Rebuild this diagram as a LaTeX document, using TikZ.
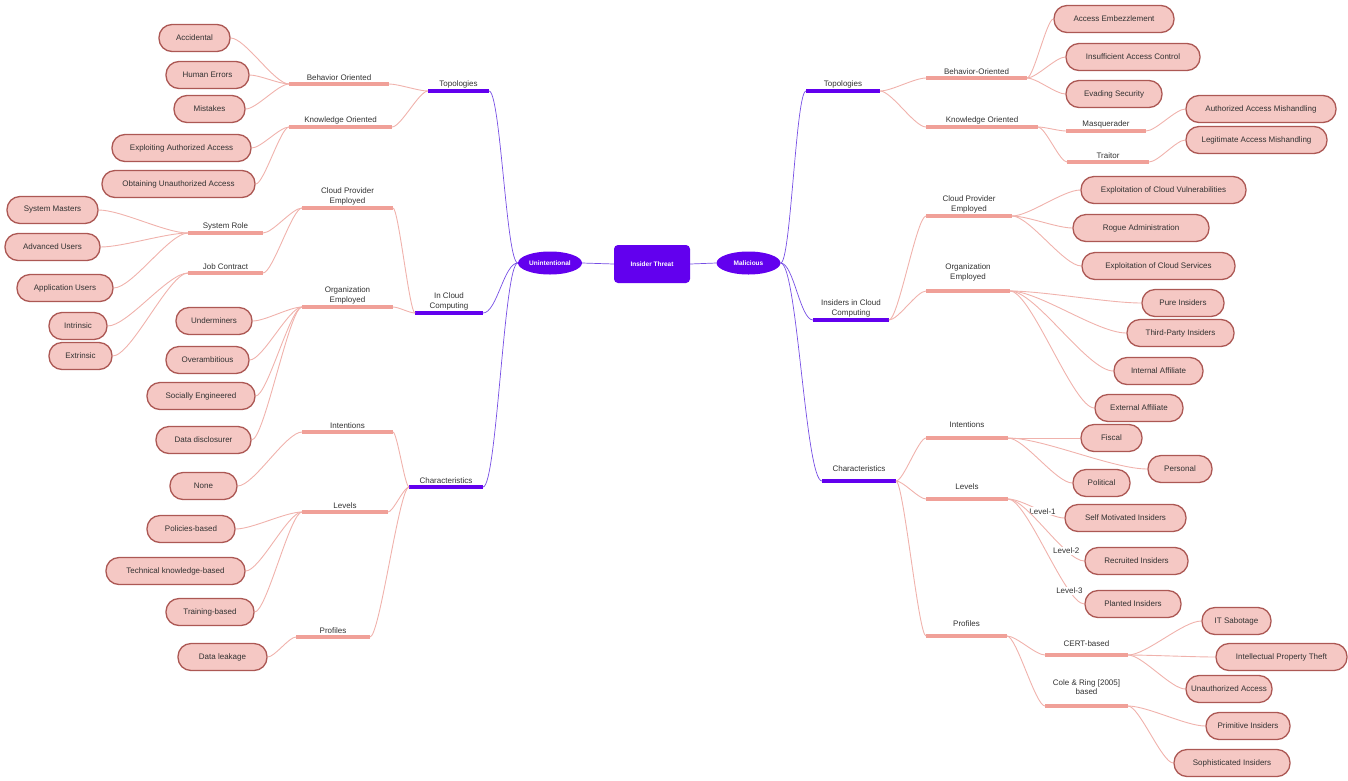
\documentclass[tikz,border=0pt]{standalone}
\usepackage{fontspec}
\setmainfont{Liberation Sans}
\usetikzlibrary{calc,shapes.geometric}

\definecolor{violetmain}{RGB}{98,0,238}
\definecolor{barpink}{RGB}{240,160,152}
\definecolor{leaffill}{RGB}{245,200,196}
\definecolor{leafline}{RGB}{172,88,84}
\definecolor{linkpink}{RGB}{240,178,172}
\definecolor{linkviolet}{RGB}{118,78,228}
\definecolor{txt}{RGB}{50,50,50}

\begin{document}
\begin{tikzpicture}[x=1pt,y=-1pt,
  every node/.style={font=\fontsize{8}{9.5}\selectfont, text=txt},
  hub/.style={rectangle, rounded corners=4pt, fill=violetmain, minimum width=76,
    minimum height=38, text=white, font=\fontsize{6.5}{8}\selectfont\bfseries},
  branch/.style={ellipse, fill=violetmain, minimum width=64, minimum height=23,
    inner sep=0pt, text=white, font=\fontsize{6.5}{8}\selectfont\bfseries},
  vbar/.style={fill=violetmain, minimum height=4, inner sep=0pt, outer sep=0pt},
  pbar/.style={fill=barpink, minimum height=4, inner sep=0pt, outer sep=0pt},
  lbl/.style={align=center, inner sep=1pt},
  leaf/.style={draw=leafline, fill=leaffill, line width=1.3pt, rounded corners=13pt,
    minimum height=27, inner sep=2pt},
  curve/.style={to path={let \p1=(\tikztostart), \p2=(\tikztotarget) in
    .. controls ({\x1+#1*(\x2-\x1)},\y1) and ({\x2-#1*(\x2-\x1)},\y2) .. (\tikztotarget) \tikztonodes}},
  link/.style={draw=linkpink, line width=0.9pt, curve=0.25},
  vlink/.style={draw=linkviolet, line width=0.7pt, curve=0.4},
  edgelbl/.style={fill=white, inner sep=1pt}
]
\useasboundingbox (0,0) rectangle (1348,780);

% ---------- centre ----------
\node[hub] (hub) at (652,264) {Insider Threat};
\node[branch] (unint) at (550,263) {Unintentional};
\node[branch] (mal) at (748.5,263) {Malicious};

% ---------- unintentional side: branch bars ----------
\node[vbar, minimum width=61, label={[lbl]above:Topologies}] (ltop) at (458.5,91) {};
\node[vbar, minimum width=68, label={[lbl]above:{In Cloud\\Computing}}] (lcloud) at (449,313) {};
\node[vbar, minimum width=74, label={[lbl]above:Characteristics}] (lchar) at (446,487) {};

\node[pbar, minimum width=100, label={[lbl]above:Behavior Oriented}] (lbeh) at (339,84) {};
\node[pbar, minimum width=103, label={[lbl]above:Knowledge Oriented}] (lknow) at (340.5,127) {};
\node[pbar, minimum width=91, label={[lbl]above:{Cloud Provider\\Employed}}] (lcpe) at (347.5,208) {};
\node[pbar, minimum width=91, label={[lbl]above:{Organization\\Employed}}] (loe) at (347.5,307) {};
\node[pbar, minimum width=75, label={[lbl]above:System Role}] (lsr) at (225.5,233) {};
\node[pbar, minimum width=75, label={[lbl]above:Job Contract}] (ljc) at (225.5,273) {};
\node[pbar, minimum width=91, label={[lbl]above:Intentions}] (lint) at (347.5,432) {};
\node[pbar, minimum width=86, label={[lbl]above:Levels}] (llev) at (345,512) {};
\node[pbar, minimum width=74, label={[lbl]above:Profiles}] (lprof) at (333,637) {};

% ---------- unintentional side: leaves ----------
\node[leaf, minimum width=71] (acc) at (194.5,38) {Accidental};
\node[leaf, minimum width=83] (hum) at (207.5,75) {Human Errors};
\node[leaf, minimum width=71] (mis) at (209.5,109) {Mistakes};
\node[leaf, minimum width=139] (exa) at (181.5,148) {Exploiting Authorized Access};
\node[leaf, minimum width=153] (obt) at (178.5,184) {Obtaining Unauthorized Access};
\node[leaf, minimum width=91] (sm) at (52.5,210) {System Masters};
\node[leaf, minimum width=95] (au) at (52.5,247) {Advanced Users};
\node[leaf, minimum width=96] (apu) at (65,288) {Application Users};
\node[leaf, minimum width=58] (intr) at (78,326) {Intrinsic};
\node[leaf, minimum width=63] (extr) at (80.5,356) {Extrinsic};
\node[leaf, minimum width=76] (und) at (214,321) {Underminers};
\node[leaf, minimum width=83] (ove) at (207.5,360) {Overambitious};
\node[leaf, minimum width=108] (soc) at (201,396) {Socially Engineered};
\node[leaf, minimum width=95] (dd) at (203.5,440) {Data disclosurer};
\node[leaf, minimum width=67] (none) at (203.5,486) {None};
\node[leaf, minimum width=88] (pol) at (191,529) {Policies-based};
\node[leaf, minimum width=139] (tech) at (175.5,571) {Technical knowledge-based};
\node[leaf, minimum width=88] (tra) at (210,612) {Training-based};
\node[leaf, minimum width=89] (dl) at (222.5,657) {Data leakage};

% ---------- malicious side: branch bars ----------
\node[vbar, minimum width=74, label={[lbl]above:Topologies}] (rtop) at (843,91) {};
\node[vbar, minimum width=76, label={[lbl]above:{Insiders in Cloud\\Computing}}] (ricc) at (851,320) {};
\node[vbar, minimum width=74, label={[lbl,yshift=6pt]above:Characteristics}] (rchar) at (859,481) {};

\node[pbar, minimum width=101, label={[lbl]above:Behavior-Oriented}] (rbeh) at (976.5,78) {};
\node[pbar, minimum width=112, label={[lbl]above:Knowledge Oriented}] (rknow) at (982,127) {};
\node[pbar, minimum width=80, label={[lbl]above:Masquerader}] (rmasq) at (1106,131) {};
\node[pbar, minimum width=82, label={[lbl]above:Traitor}] (rtrai) at (1108,162) {};
\node[pbar, minimum width=86, label={[lbl]above:{Cloud Provider\\Employed}}] (rcpe) at (969,216) {};
\node[pbar, minimum width=84, label={[lbl,yshift=7pt]above:{Organization\\Employed}}] (roe) at (968,291) {};
\node[pbar, minimum width=82, label={[lbl,yshift=7pt]above:Intentions}] (rint) at (967,438) {};
\node[pbar, minimum width=82, label={[lbl,yshift=6pt]above:Levels}] (rlev) at (967,499) {};
\node[pbar, minimum width=81, label={[lbl,yshift=6pt]above:Profiles}] (rprof) at (966.5,636) {};
\node[pbar, minimum width=83, label={[lbl,yshift=5pt]above:CERT-based}] (rcert) at (1086.5,655) {};
\node[pbar, minimum width=83, label={[lbl,yshift=8pt]above:{Cole \& Ring [2005]\\based}}] (rcole) at (1086.5,706) {};

% ---------- malicious side: leaves ----------
\node[leaf, minimum width=120] (ae) at (1114,19) {Access Embezzlement};
\node[leaf, minimum width=134] (iac) at (1133,57) {Insufficient Access Control};
\node[leaf, minimum width=96] (es) at (1114,94) {Evading Security};
\node[leaf, minimum width=150] (aam) at (1261,109) {Authorized Access Mishandling};
\node[leaf, minimum width=141] (lam) at (1256.5,140) {Legitimate Access Mishandling};
\node[leaf, minimum width=165] (ecv) at (1163.5,190) {Exploitation of Cloud Vulnerabilities};
\node[leaf, minimum width=136] (ra) at (1141,228) {Rogue Administration};
\node[leaf, minimum width=153] (ecs) at (1158.5,266) {Exploitation of Cloud Services};
\node[leaf, minimum width=82] (pi) at (1183,303) {Pure Insiders};
\node[leaf, minimum width=107] (tpi) at (1180.5,333) {Third-Party Insiders};
\node[leaf, minimum width=89] (ia) at (1158.5,371) {Internal Affiliate};
\node[leaf, minimum width=88] (ea) at (1139,408) {External Affiliate};
\node[leaf, minimum width=61] (fis) at (1111.5,438) {Fiscal};
\node[leaf, minimum width=64] (per) at (1180,469) {Personal};
\node[leaf, minimum width=57] (polt) at (1101.5,483) {Political};
\node[leaf, minimum width=121] (smi) at (1125.5,518) {Self Motivated Insiders};
\node[leaf, minimum width=103] (rec) at (1136.5,561) {Recruited Insiders};
\node[leaf, minimum width=96] (pla) at (1133,604) {Planted Insiders};
\node[leaf, minimum width=69] (its) at (1236.5,621) {IT Sabotage};
\node[leaf, minimum width=131] (ipt) at (1281.5,657) {Intellectual Property Theft};
\node[leaf, minimum width=86] (ua) at (1229,689) {Unauthorized Access};
\node[leaf, minimum width=84] (pri) at (1248,726) {Primitive Insiders};
\node[leaf, minimum width=116] (soph) at (1232,763) {Sophisticated Insiders};

% ---------- connectors ----------
\draw[draw=linkviolet, line width=0.7pt] (unint.east) -- (hub.west);
\draw[draw=linkviolet, line width=0.7pt] (hub.east) -- (mal.west);

\foreach \t in {ltop,lcloud,lchar} \draw[vlink] (unint.west) to (\t.east);
\foreach \t in {rtop,ricc,rchar} \draw[vlink] (mal.east) to (\t.west);

% unintentional
\foreach \t in {lbeh,lknow} \draw[link] (ltop.west) to (\t.east);
\foreach \t in {acc,hum,mis} \draw[link] (lbeh.west) to (\t.east);
\foreach \t in {exa,obt} \draw[link] (lknow.west) to (\t.east);
\foreach \t in {lcpe,loe} \draw[link] (lcloud.west) to (\t.east);
\foreach \t in {lsr,ljc} \draw[link] (lcpe.west) to (\t.east);
\foreach \t in {sm,au,apu} \draw[link] (lsr.west) to (\t.east);
\foreach \t in {intr,extr} \draw[link] (ljc.west) to (\t.east);
\foreach \t in {und,ove,soc,dd} \draw[link] (loe.west) to (\t.east);
\foreach \t in {lint,llev,lprof} \draw[link] (lchar.west) to (\t.east);
\draw[link] (lint.west) to (none.east);
\foreach \t in {pol,tech,tra} \draw[link] (llev.west) to (\t.east);
\draw[link] (lprof.west) to (dl.east);

% malicious
\foreach \t in {rbeh,rknow} \draw[link] (rtop.east) to (\t.west);
\foreach \t in {ae,iac,es} \draw[link] (rbeh.east) to (\t.west);
\foreach \t in {rmasq,rtrai} \draw[link] (rknow.east) to (\t.west);
\draw[link] (rmasq.east) to (aam.west);
\draw[link] (rtrai.east) to (lam.west);
\foreach \t in {rcpe,roe} \draw[link] (ricc.east) to (\t.west);
\foreach \t in {ecv,ra,ecs} \draw[link] (rcpe.east) to (\t.west);
\foreach \t in {pi,tpi,ia,ea} \draw[link] (roe.east) to (\t.west);
\foreach \t in {rint,rlev,rprof} \draw[link] (rchar.east) to (\t.west);
\foreach \t in {fis,per,polt} \draw[link] (rint.east) to (\t.west);
\draw[link] (rlev.east) to node[edgelbl, pos=0.6] {Level-1} (smi.west);
\draw[link] (rlev.east) to node[edgelbl, pos=0.74] {Level-2} (rec.west);
\draw[link] (rlev.east) to node[edgelbl, pos=0.78] {Level-3} (pla.west);
\foreach \t in {rcert,rcole} \draw[link] (rprof.east) to (\t.west);
\foreach \t in {its,ipt,ua} \draw[link] (rcert.east) to (\t.west);
\foreach \t in {pri,soph} \draw[link] (rcole.east) to (\t.west);
\end{tikzpicture}
\end{document}
